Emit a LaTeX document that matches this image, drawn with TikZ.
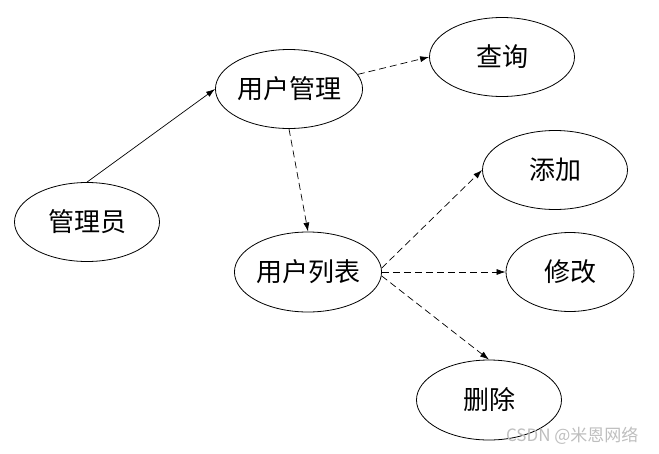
\documentclass[tikz,border=0pt]{standalone}
\usepackage{fontspec}
\setmainfont{Noto Sans CJK SC}
\usetikzlibrary{shapes,arrows.meta,positioning}
\definecolor{mark}{RGB}{190,190,190}

\tikzset{
  usecase/.style={ellipse, draw, line width=0.8pt, inner sep=0pt, minimum width=145pt, minimum height=79pt, font=\fontsize{26}{30}\selectfont},
  flow/.style={line width=0.7pt, -{Latex[length=9pt,width=6pt]}},
  ext/.style={flow, dash pattern=on 7pt off 4pt}
}

\begin{document}
\begin{tikzpicture}[x=1pt, y=-1pt]
\useasboundingbox (0,0) rectangle (659,453);
\node (admin) [usecase] at (87,222) {管理员};
\node (usermgr) [usecase, minimum width=147pt] at (289,89) {用户管理};
\node (query) [usecase] at (502,57) {查询};
\node (userlist) [usecase, minimum width=144pt, minimum height=80pt] at (308,272) {用户列表};
\node (add) [usecase] at (555,170) {添加};
\node (modify) [usecase, minimum width=128pt] at (570,272) {修改};
\node (delete) [usecase, minimum height=80pt] at (489,400) {删除};

\draw [flow] (admin.north) -- (usermgr.west);
\draw [ext] (usermgr.12) -- (query.west);
\draw [ext] (usermgr.south) -- (userlist.north);
\draw [ext] (userlist.3) -- (add.west);
\draw [ext] (userlist.east) -- (modify.west);
\draw [ext] (userlist.-3) -- (delete.north);

% watermark
\node (wm) [text=mark, font=\fontsize{17}{20}\selectfont, anchor=east] at (642,436) {CSDN @米恩网络};
\end{tikzpicture}
\end{document}
